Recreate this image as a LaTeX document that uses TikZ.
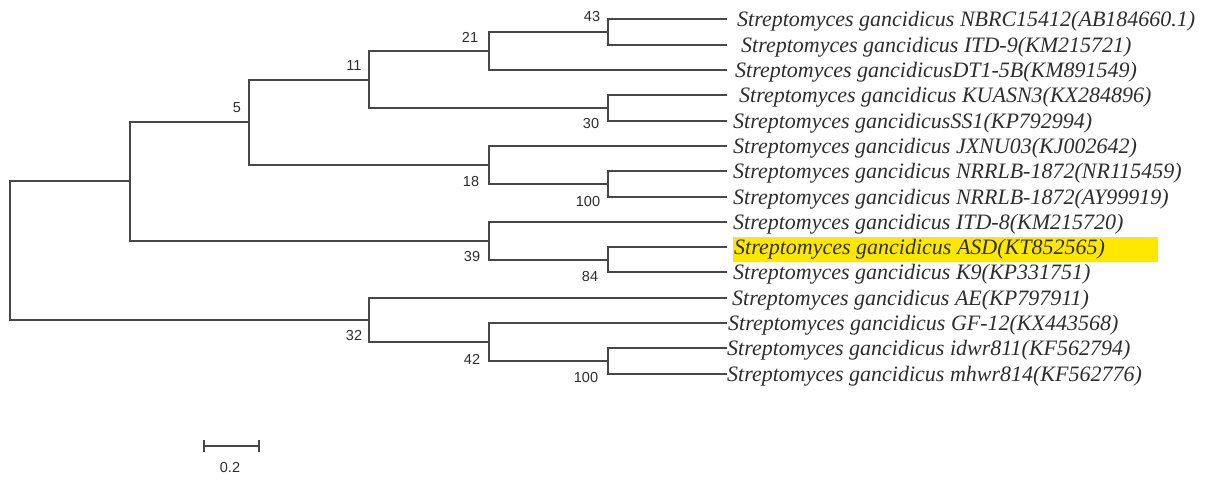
\documentclass[tikz,border=0pt]{standalone}
\usepackage{fontspec}
\setmainfont{Liberation Serif}
\newfontfamily\lblfont{Liberation Sans}
\begin{document}
\begin{tikzpicture}[x=1pt,y=-1pt,
  branch/.style={draw=black!72,line width=2pt},
  taxon/.style={anchor=base west,inner sep=0pt,yshift=-7.5pt,font=\fontsize{22}{22}\selectfont\itshape,text=black!82},
  boot/.style={inner sep=0pt,font=\lblfont\fontsize{14.5}{14.5}\selectfont,text=black!82}]
\useasboundingbox[fill=white] (0,0) rectangle (1208,480);
\definecolor{hl}{RGB}{255,232,0}
% highlight behind the strain of interest
\fill[hl] (733,237) rectangle (1158,262);
% leaf tips
\coordinate (e1) at (727,19);
\coordinate (e2) at (727,45);
\coordinate (e3) at (727,70);
\coordinate (e4) at (727,95);
\coordinate (e5) at (727,121);
\coordinate (e6) at (727,146);
\coordinate (e7) at (727,171);
\coordinate (e8) at (727,197);
\coordinate (e9) at (727,222);
\coordinate (e10) at (727,247);
\coordinate (e11) at (727,272);
\coordinate (e12) at (727,298);
\coordinate (e13) at (727,323);
\coordinate (e14) at (727,348);
\coordinate (e15) at (727,374);
% taxon labels
\node[taxon] (t1) at (737,19) {Streptomyces gancidicus NBRC15412(AB184660.1)};
\node[taxon] (t2) at (741,45) {Streptomyces gancidicus ITD-9(KM215721)};
\node[taxon] (t3) at (735,70) {Streptomyces gancidicusDT1-5B(KM891549)};
\node[taxon] (t4) at (739,95) {Streptomyces gancidicus KUASN3(KX284896)};
\node[taxon] (t5) at (733,121) {Streptomyces gancidicusSS1(KP792994)};
\node[taxon] (t6) at (733,146) {Streptomyces gancidicus JXNU03(KJ002642)};
\node[taxon] (t7) at (733,171) {Streptomyces gancidicus NRRLB-1872(NR115459)};
\node[taxon] (t8) at (733,197) {Streptomyces gancidicus NRRLB-1872(AY99919)};
\node[taxon] (t9) at (733,222) {Streptomyces gancidicus ITD-8(KM215720)};
\node[taxon] (t10) at (734,247) {Streptomyces gancidicus ASD(KT852565)};
\node[taxon] (t11) at (733,272) {Streptomyces gancidicus K9(KP331751)};
\node[taxon] (t12) at (732,298) {Streptomyces gancidicus AE(KP797911)};
\node[taxon] (t13) at (728,323) {Streptomyces gancidicus GF-12(KX443568)};
\node[taxon] (t14) at (727,348) {Streptomyces gancidicus idwr811(KF562794)};
\node[taxon] (t15) at (727,374) {Streptomyces gancidicus mhwr814(KF562776)};
% internal nodes
\coordinate (n43) at (608,32);
\coordinate (n21) at (489,51);
\coordinate (n30) at (608,108);
\coordinate (n11) at (369,80);
\coordinate (n100a) at (608,184);
\coordinate (n18) at (489,165);
\coordinate (n5) at (249,122);
\coordinate (n84) at (608,260);
\coordinate (n39) at (489,241);
\coordinate (nA) at (130,181);
\coordinate (n100b) at (608,361);
\coordinate (n42) at (489,342);
\coordinate (n32) at (369,320);
\coordinate (root) at (10,250);
% branches
\path[branch] (root) |- (nA);
\path[branch] (root) |- (n32);
\path[branch] (nA) |- (n5);
\path[branch] (nA) |- (n39);
\path[branch] (n5) |- (n11);
\path[branch] (n5) |- (n18);
\path[branch] (n11) |- (n21);
\path[branch] (n11) |- (n30);
\path[branch] (n21) |- (n43);
\path[branch] (n21) |- (e3);
\path[branch] (n43) |- (e1);
\path[branch] (n43) |- (e2);
\path[branch] (n30) |- (e4);
\path[branch] (n30) |- (e5);
\path[branch] (n18) |- (e6);
\path[branch] (n18) |- (n100a);
\path[branch] (n100a) |- (e7);
\path[branch] (n100a) |- (e8);
\path[branch] (n39) |- (e9);
\path[branch] (n39) |- (n84);
\path[branch] (n84) |- (e10);
\path[branch] (n84) |- (e11);
\path[branch] (n32) |- (e12);
\path[branch] (n32) |- (n42);
\path[branch] (n42) |- (e13);
\path[branch] (n42) |- (n100b);
\path[branch] (n100b) |- (e14);
\path[branch] (n100b) |- (e15);
% bootstrap values
\node[boot] (b43) at (592,17) {43};
\node[boot] (b21) at (470,37) {21};
\node[boot] (b11) at (354,66) {11};
\node[boot] (b5) at (237,108) {5};
\node[boot] (b30) at (591,124) {30};
\node[boot] (b18) at (471,182) {18};
\node[boot] (b100a) at (588,202) {100};
\node[boot] (b39) at (472,257) {39};
\node[boot] (b84) at (590,277) {84};
\node[boot] (b32) at (354,336) {32};
\node[boot] (b42) at (472,359) {42};
\node[boot] (b100b) at (586,378) {100};
% scale bar
\coordinate (sbl) at (204,446);
\coordinate (sbr) at (259,446);
\path[branch,line width=1.8pt] (sbl) -- (sbr);
\path[branch,line width=1.8pt] ([yshift=6pt]sbl) -- ([yshift=-6pt]sbl);
\path[branch,line width=1.8pt] ([yshift=6pt]sbr) -- ([yshift=-6pt]sbr);
\node[boot] (sbt) at (230,468) {0.2};
\end{tikzpicture}
\end{document}
